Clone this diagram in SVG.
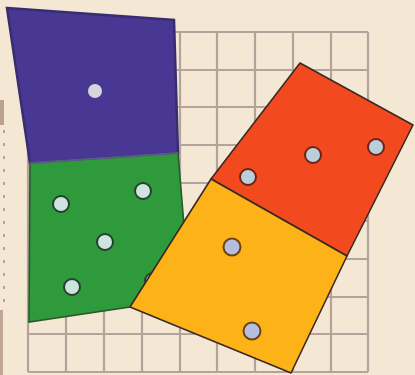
<svg xmlns="http://www.w3.org/2000/svg" width="415" height="375" viewBox="0 0 415 375">
  <defs>
    <style>
      .grid line { stroke: #b3a39b; stroke-width: 2.2; }
      .edge { stroke: #3a2a22; stroke-width: 1.6; stroke-linejoin: round; }
      .pip-b { fill: #d6d6da; }
      .pip-g { fill: #cfe4de; stroke: #24402e; stroke-width: 2; }
      .pip-r { fill: #b9d0dc; stroke: #6a2416; stroke-width: 2; }
      .pip-y { fill: #b6bee0; stroke: #6a4418; stroke-width: 2; }
    </style>
  </defs>
  <rect width="415" height="375" fill="#f4e7d4"/>
  <!-- left margin marks -->
  <line x1="4" y1="130" x2="4" y2="305" stroke="#8a6a5a" stroke-width="1.4" stroke-dasharray="3 10" opacity="0.8"/>
  <rect x="0" y="100" width="4" height="25" fill="#8a6656" opacity="0.55"/>
  <rect x="0" y="310" width="3" height="65" fill="#8a6656" opacity="0.5"/>
  <g class="grid" id="grid">
    <line x1="28" y1="32" x2="368" y2="32"/>
    <line x1="28" y1="70" x2="368" y2="70"/>
    <line x1="28" y1="107" x2="368" y2="107"/>
    <line x1="28" y1="145" x2="368" y2="145"/>
    <line x1="28" y1="183" x2="368" y2="183"/>
    <line x1="28" y1="221" x2="368" y2="221"/>
    <line x1="28" y1="259" x2="368" y2="259"/>
    <line x1="28" y1="297" x2="368" y2="297"/>
    <line x1="28" y1="334" x2="368" y2="334"/>
    <line x1="28" y1="372" x2="368" y2="372"/>
    <line x1="28" y1="32" x2="28" y2="372"/>
    <line x1="66" y1="32" x2="66" y2="372"/>
    <line x1="104" y1="32" x2="104" y2="372"/>
    <line x1="142" y1="32" x2="142" y2="372"/>
    <line x1="180" y1="32" x2="180" y2="372"/>
    <line x1="217" y1="32" x2="217" y2="372"/>
    <line x1="255" y1="32" x2="255" y2="372"/>
    <line x1="293" y1="32" x2="293" y2="372"/>
    <line x1="331" y1="32" x2="331" y2="372"/>
    <line x1="368" y1="32" x2="368" y2="372"/>
  </g>
  <g id="domino-blue-green">
    <polygon points="7,8 174,20 178,153 30,163" fill="#483894" stroke="#3a2c70" stroke-width="2.5"/>
    <polygon points="30,163 178,153 190,298 29,322" fill="#2f9a3b" stroke="#2a5a2c" stroke-width="1.6"/>
    <line x1="30" y1="163" x2="178" y2="153" stroke="#5a5a8a" stroke-width="2"/>
    <circle class="pip-b" cx="95" cy="91" r="7"/>
    <circle class="pip-g" cx="61" cy="204" r="8"/>
    <circle class="pip-g" cx="143" cy="191" r="8"/>
    <circle class="pip-g" cx="105" cy="242" r="8"/>
    <circle class="pip-g" cx="72" cy="287" r="8"/>
    <circle class="pip-g" cx="153" cy="281" r="8"/>
  </g>
  <g id="domino-red-yellow">
    <polygon class="edge" points="300,63 413,125 347,256 211,179" fill="#f24a1e"/>
    <polygon class="edge" points="211,179 347,256 291,373 130,307" fill="#fdb318"/>
    <circle class="pip-r" cx="248" cy="177" r="8"/>
    <circle class="pip-r" cx="313" cy="155" r="8"/>
    <circle class="pip-r" cx="376" cy="147" r="8"/>
    <circle class="pip-y" cx="232" cy="247" r="8.5"/>
    <circle class="pip-y" cx="252" cy="331" r="8.5"/>
  </g>
</svg>
